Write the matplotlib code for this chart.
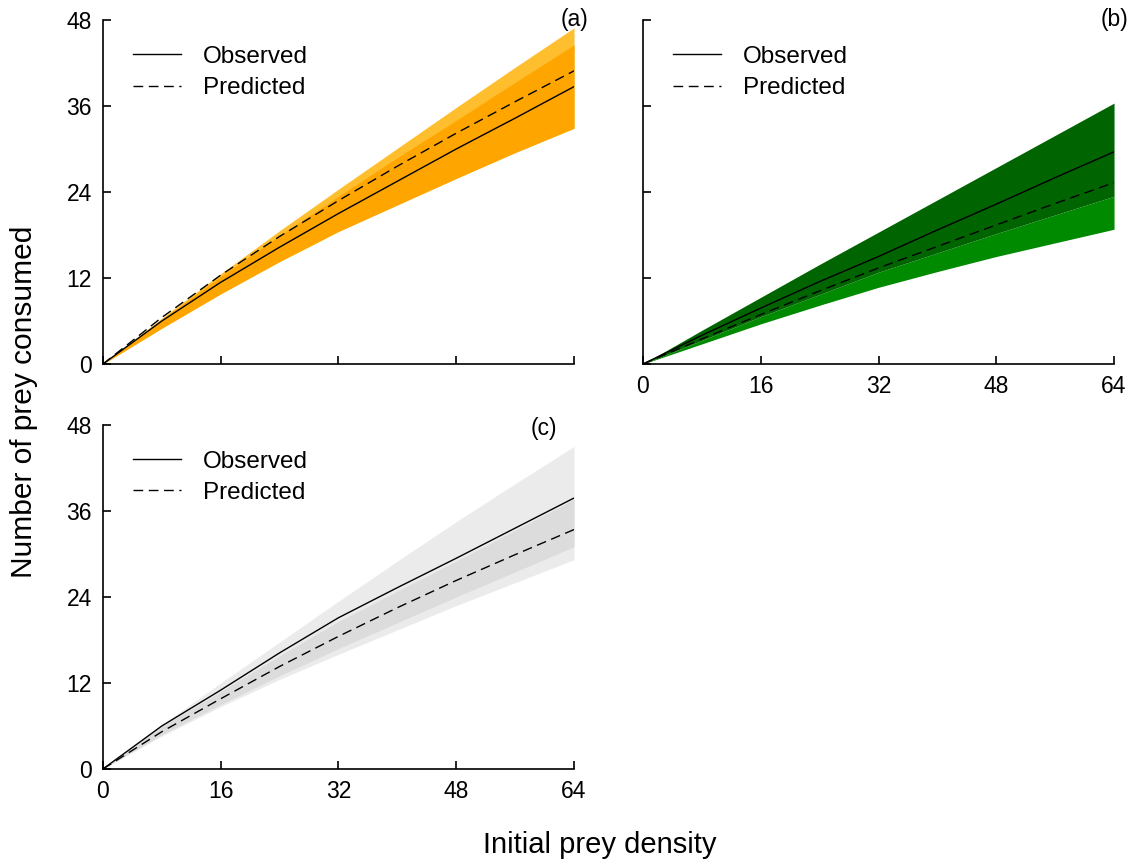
import matplotlib.pyplot as plt

plt.rcParams['font.family'] = ['Liberation Sans', 'DejaVu Sans']

density = [0, 8, 16, 24, 32, 40, 48, 56, 64]

# panel (a)
a_obs = [0, 6.0, 11.4, 16.3, 21.0, 25.5, 30.0, 34.3, 38.7]
a_pred = [0, 6.5, 12.4, 17.8, 22.8, 27.6, 32.2, 36.6, 40.9]
a_upper = [0, 6.4, 12.6, 18.6, 24.4, 30.1, 35.8, 41.4, 46.9]
a_mid = [0, 6.2, 12.2, 17.9, 23.4, 28.8, 34.0, 39.3, 44.5]
a_lower = [0, 5.0, 9.8, 14.3, 18.5, 22.2, 25.9, 29.5, 32.9]

# panel (b)
b_obs = [0, 4.0, 7.8, 11.5, 15.0, 18.7, 22.3, 26.0, 29.6]
b_pred = [0, 3.5, 6.9, 10.2, 13.4, 16.4, 19.4, 22.4, 25.3]
b_upper = [0, 4.7, 9.3, 13.9, 18.4, 22.9, 27.4, 31.9, 36.4]
b_mid = [0, 3.3, 6.6, 9.7, 12.8, 15.5, 18.2, 20.8, 23.4]
b_lower = [0, 2.8, 5.6, 8.2, 10.7, 12.9, 15.0, 16.9, 18.8]

# panel (c)
c_obs = [0, 6.0, 11.0, 16.2, 21.1, 25.3, 29.4, 33.6, 37.8]
c_pred = [0, 5.2, 9.8, 14.3, 18.5, 22.5, 26.3, 29.9, 33.4]
c_upper = [0, 6.2, 12.0, 17.7, 23.4, 29.0, 34.5, 39.8, 45.0]
c_lower = [0, 4.6, 8.7, 12.5, 16.0, 19.4, 22.8, 26.0, 29.2]
c_dark_hi = [0, 5.9, 10.8, 15.8, 20.6, 24.8, 29.0, 33.3, 37.6]
c_dark_lo = [0, 4.8, 9.0, 13.0, 16.8, 20.4, 24.0, 27.5, 31.0]

xticks = [0, 16, 32, 48, 64]
yticks = [0, 12, 24, 36, 48]

fig = plt.figure(figsize=(11.34, 8.64), dpi=100)
ax_a = fig.add_axes([0.0908, 0.5787, 0.4154, 0.3982])
ax_b = fig.add_axes([0.5670, 0.5787, 0.4154, 0.3982])
ax_c = fig.add_axes([0.0908, 0.1100, 0.4154, 0.3982])


def style(ax, xlab, ylab):
    ax.set_xlim(0, 64)
    ax.set_ylim(0, 48)
    ax.set_xticks(xticks)
    ax.set_yticks(yticks)
    for s in ['top', 'right']:
        ax.spines[s].set_visible(False)
    for s in ['left', 'bottom']:
        ax.spines[s].set_linewidth(1.2)
    ax.tick_params(direction='in', length=6, width=1.2, labelsize=16.5)
    ax.tick_params(axis='x', pad=8)
    ax.tick_params(axis='y', pad=8)
    if not xlab:
        ax.set_xticklabels([])
    if not ylab:
        ax.set_yticklabels([])


def lines(ax, obs, pred):
    ax.plot(density, obs, color='black', lw=1.0, label='Observed')
    ax.plot(density, pred, color='black', lw=1.0, ls=(0, (7, 4)), label='Predicted')
    ax.legend(loc='upper left', bbox_to_anchor=(0.063, 0.925), frameon=False,
              fontsize=17.5, handlelength=2.0, handletextpad=0.9,
              labelspacing=0.38, borderpad=0, borderaxespad=0)


# (a)
ax_a.fill_between(density, a_lower, a_upper, color='#FFBE2E', lw=0)
ax_a.fill_between(density, a_lower, a_mid, color='#FFA500', lw=0)
lines(ax_a, a_obs, a_pred)
style(ax_a, False, True)
ax_a.text(1.03, 1.0, '(a)', transform=ax_a.transAxes, ha='right', va='center', fontsize=16.5)

# (b)
ax_b.fill_between(density, b_lower, b_mid, color='#008A00', lw=0)
ax_b.fill_between(density, b_mid, b_upper, color='#006400', lw=0)
lines(ax_b, b_obs, b_pred)
style(ax_b, True, False)
ax_b.text(1.03, 1.0, '(b)', transform=ax_b.transAxes, ha='right', va='center', fontsize=16.5)

# (c)
ax_c.fill_between(density, c_lower, c_upper, color='#EBEBEB', lw=0)
ax_c.fill_between(density, c_dark_lo, c_dark_hi, color='#DCDCDC', lw=0)
lines(ax_c, c_obs, c_pred)
style(ax_c, True, True)
ax_c.text(0.965, 0.99, '(c)', transform=ax_c.transAxes, ha='right', va='center', fontsize=16.5)

fig.text(0.021, 0.535, 'Number of prey consumed', rotation=90, ha='center', va='center', fontsize=21.5)
fig.text(0.529, 0.022, 'Initial prey density', ha='center', va='center', fontsize=21)

fig.savefig('out.png', dpi=100)
